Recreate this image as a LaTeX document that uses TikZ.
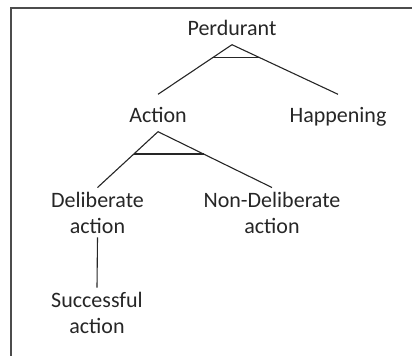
\documentclass[tikz,border=0pt]{standalone}
\usepackage{fontspec}
\setmainfont{Carlito}
\usetikzlibrary{calc}

\begin{document}
\begin{tikzpicture}[x=1pt, y=-1pt,
		lbl/.style={font=\fontsize{22}{26}\selectfont, text=black!85, inner xsep=2pt, inner ysep=9.5pt, text height=18pt, text depth=0pt, anchor=base},
		twolbl/.style={font=\fontsize{22}{26}\selectfont, text=black!85, align=center, inner xsep=2pt, inner ysep=4pt, anchor=base},
		branch/.style={draw=black!85, line width=1.1pt}]
			\useasboundingbox (0,0) rectangle (412,356);
			\draw[black!70, line width=1.5pt] (412,8) -| (11,356);
			\node[lbl] (perd) at (232,35) {Perdurant};
			\node[lbl] (act) at (158,122) {Action};
			\node[lbl] (hap) at (338,122) {Happening};
			\node[twolbl] (delib) at (97.5,233) {Deliberate\\action};
			\node[twolbl] (nondelib) at (272,233) {Non-Deliberate\\action};
			\node[twolbl] (succ) at (97,333) {Successful\\action};
			\draw[branch] (perd.south) -- (act.north);
			\draw[branch] (perd.south) -- (hap.north);
			\draw[branch] ($(perd.south)!0.265!(act.north)$) -- ($(perd.south)!0.265!(hap.north)$);
			\draw[branch] (act.south) -- (delib.north);
			\draw[branch] (act.south) -- (nondelib.north);
			\draw[branch] ($(act.south)!0.4!(delib.north)$) -- ($(act.south)!0.4!(nondelib.north)$);
			\draw[branch] (delib.south) -- (succ.north);
		\end{tikzpicture}
\end{document}
